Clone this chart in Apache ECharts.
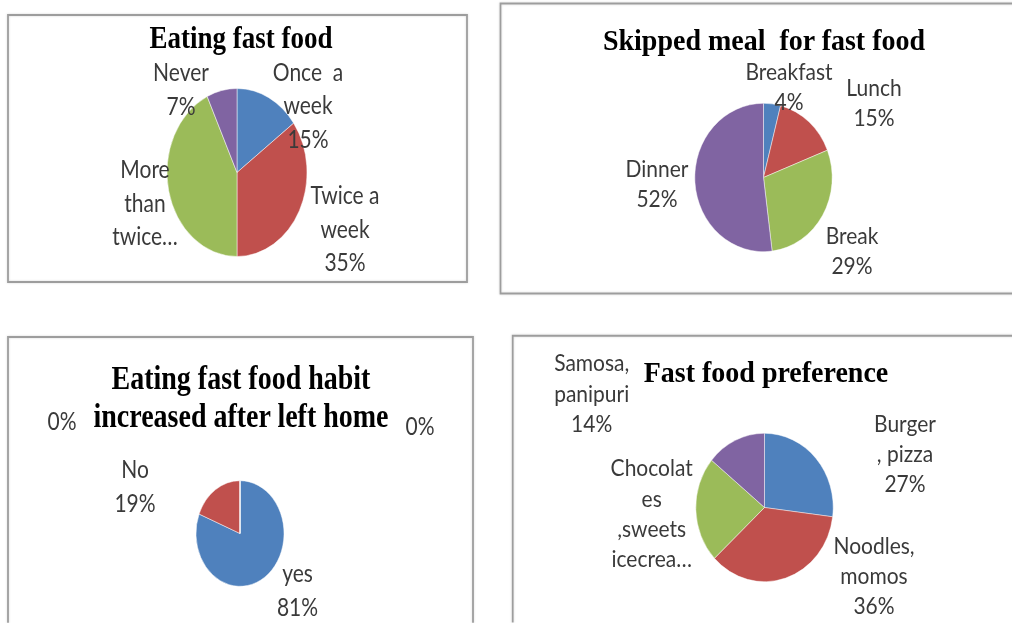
<!DOCTYPE html>
<html><head><meta charset="utf-8">
<script src="https://cdn.jsdelivr.net/npm/echarts@6/dist/echarts.min.js"></script>
<style>
html,body{margin:0;padding:0;background:#fff;}
body{width:1012px;height:623px;overflow:hidden;position:relative;}
.p{position:absolute;transform-origin:0 0;}
</style></head>
<body>
<script>
// ---- data ----
const eatCategories = ['Once  a week', 'Twice a week', 'More than twice a week', 'Never'];
const eatValues = [15, 35, 43, 7];
const eatLabels = ['Once  a\nweek\n{p}', 'Twice a\nweek\n{p}', 'More\nthan\ntwice…', 'Never\n{p}'];

const skipCategories = ['Breakfast', 'Lunch', 'Break', 'Dinner'];
const skipValues = [4, 15, 29, 52];
const skipLabels = ['Breakfast\n{p}', 'Lunch\n{p}', 'Break\n{p}', 'Dinner\n{p}'];

const habitCategories = ['yes', 'No', '', ' '];
const habitValues = [81, 19, 0, 0];
const habitLabels = ['yes\n{p}', 'No\n{p}', '{p}', '{p}'];

const prefCategories = ['Burger , pizza', 'Noodles, momos', 'Chocolates ,sweets icecream', 'Samosa, panipuri'];
const prefValues = [27, 36, 23, 14];
const prefLabels = ['Burger\n, pizza\n{p}', 'Noodles,\nmomos\n{p}', 'Chocolat\nes\n,sweets\nicecrea…', 'Samosa,\npanipuri\n{p}'];

const titles = ['Eating fast food', 'Skipped meal  for fast food', 'Eating fast food habit\nincreased after left home', 'Fast food preference'];

// ---- layout / style ----
const COLORS = ['#4F81BD', '#C0504D', '#9BBB59', '#8064A2'];
const panels = [
  {left: 0, top: 0, width: 490, refH: 312, sy: 1.2, box: [8, 15, 467, 282], titleX: 241, titleY: 37, titleSize: 27,
   center: [237, 172.5], r: 70, names: eatCategories, values: eatValues, texts: eatLabels, title: titles[0],
   anchors: [[308, 104.5], [345, 228], [145, 202], [181, 88]]},
  {left: 490, top: 0, width: 522, refH: 312, sy: 1.08, box: [500.5, 3.5, 1100, 293.5], titleX: 764, titleY: 40, titleSize: 28,
   center: [763.5, 177.5], r: 68.7, names: skipCategories, values: skipValues, texts: skipLabels, title: titles[1],
   anchors: [[789, 86], [874, 102], [852, 250], [657, 183]]},
  {left: 0, top: 318, width: 490, refH: 305, sy: 1.2, box: [8, 337, 473, 900], titleX: 241, titleY: 396.5, titleSize: 28,
   center: [240, 533.5], r: 44, names: habitCategories, values: habitValues, texts: habitLabels, title: titles[2],
   anchors: [[297.5, 589], [135, 485], [62, 420], [420, 425]]},
  {left: 490, top: 318, width: 522, refH: 305, sy: 1.08, box: [512.7, 335.7, 1100, 900], titleX: 766, titleY: 371.7, titleSize: 28,
   center: [764.5, 507.5], r: 68.7, names: prefCategories, values: prefValues, texts: prefLabels, title: titles[3],
   anchors: [[905, 453.3], [874, 575], [651.7, 513], [591.7, 392.7]]}
];

panels.forEach(function (cfg) {
  const innerH = cfg.refH / cfg.sy;
  const div = document.createElement('div');
  div.className = 'p';
  div.style.left = cfg.left + 'px';
  div.style.top = cfg.top + 'px';
  div.style.width = cfg.width + 'px';
  div.style.height = innerH + 'px';
  div.style.transform = 'scaleY(' + cfg.sy + ')';
  document.body.appendChild(div);
  const X = v => v - cfg.left;
  const Y = v => (v - cfg.top) / cfg.sy;
  const chart = echarts.init(div, null, {renderer: 'svg'});
  const nLines = cfg.title.split('\n').length;
  const tLH = nLines > 1 ? 31 : 22;
  const data = cfg.names.map((n, i) => ({name: n, value: cfg.values[i]}));
  chart.setOption({
    animation: false,
    color: COLORS,
    title: {
      text: cfg.title,
      left: X(cfg.titleX),
      top: Y(cfg.titleY) - nLines * tLH / 2,
      textAlign: 'center',
      padding: 0,
      textStyle: {fontFamily: '"Liberation Serif", "Times New Roman", serif', fontWeight: 'bold',
        fontSize: cfg.titleSize, color: '#000', lineHeight: tLH}
    },
    graphic: [{
      type: 'rect', silent: true, z: -1,
      shape: {x: X(cfg.box[0]), y: Y(cfg.box[1]), width: cfg.box[2] - cfg.box[0], height: (cfg.box[3] - cfg.box[1]) / cfg.sy},
      style: {fill: 'none', stroke: '#9d9d9d', lineWidth: 1.8, shadowColor: 'rgba(0,0,0,0.15)', shadowBlur: 2}
    }],
    series: [{
      type: 'pie',
      center: [X(cfg.center[0]), Y(cfg.center[1])],
      radius: cfg.r,
      startAngle: 90,
      clockwise: true,
      avoidLabelOverlap: false,
      silent: true,
      data: data,
      itemStyle: {borderColor: 'rgba(255,255,255,0.55)', borderWidth: 0.8},
      labelLine: {show: false},
      label: {
        show: true, position: 'outside',
        fontFamily: 'Lato, "Open Sans", sans-serif', fontSize: 21, lineHeight: 28,
        color: '#3a3a3a', align: 'center',
        formatter: p => cfg.texts[p.dataIndex].replace('{p}', Math.round(p.percent) + '%')
      },
      labelLayout: function (p) {
        const a = cfg.anchors[p.dataIndex];
        return {x: X(a[0]), y: Y(a[1]), align: 'center', verticalAlign: 'middle'};
      },
      emphasis: {disabled: true}
    }]
  });
});
</script>
</body></html>
